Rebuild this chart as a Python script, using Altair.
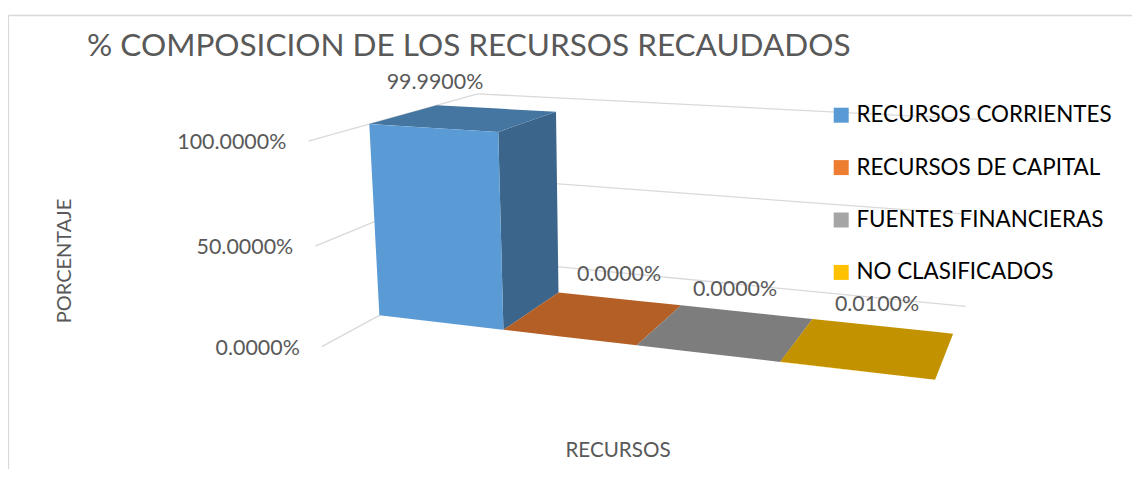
import altair as alt
import numpy as np
import pandas as pd

# ---- chart content ----
categories = ["RECURSOS CORRIENTES", "RECURSOS DE CAPITAL", "FUENTES FINANCIERAS", "NO CLASIFICADOS"]
values = [99.99, 0.0, 0.0, 0.01]
value_labels = ["99.9900%", "0.0000%", "0.0000%", "0.0100%"]
grid_values = [0, 50, 100]
tick_labels = ["0.0000%", "50.0000%", "100.0000%"]
title_text = "% COMPOSICION DE LOS RECURSOS RECAUDADOS"
y_title = "PORCENTAJE"
x_title = "RECURSOS"

# ---- styling ----
front_colors = ["#5B9BD5", "#ED7D31", "#A5A5A5", "#FFC000"]
top_colors = ["#4576A2", "#B45F25", "#7D7D7D", "#C29200"]
side_colors = ["#3B658A", "#9A5220", "#6B6B6B", "#A67C00"]
FONT = "Lato"
GREY = "#595959"
W, H = 1124, 461

# ---- camera calibration: (category, depth, share) -> page position ----
calib = [
    ((0, 0, 1), (369.3, 124)), ((1, 0, 1), (498.3, 132)), ((1, 0, 0), (503.3, 329.3)),
    ((0, 0, 0), (379.3, 315.3)), ((0, 1, 1), (436.7, 105.3)), ((1, 1, 1), (556, 111.7)),
    ((1, 1, 0), (558.7, 292.7)), ((2, 0, 0), (637, 345.5)), ((2, 1, 0), (681, 305.5)),
    ((3, 0, 0), (780, 362)), ((3, 1, 0), (812.3, 319)), ((4, 0, 0), (935, 380)),
    ((4, 1, 0), (953.3, 333.3)),
]
A, b = [], []
for (c, d, v), (u, w) in calib:
    A.append([c, d, v, 1, 0, 0, 0, 0, -u * c, -u * d, -u * v])
    b.append(u)
    A.append([0, 0, 0, 0, c, d, v, 1, -w * c, -w * d, -w * v])
    b.append(w)
sol = np.linalg.lstsq(np.array(A, float), np.array(b, float), rcond=None)[0]
P = np.append(sol, 1.0).reshape(3, 4)


def project(c, d, v):
    h = P @ np.array([c, d, v, 1.0])
    return float(h[0] / h[2]), float(h[1] / h[2])


def nearest(fn, grid, target):
    dist = [np.hypot(*(np.array(fn(g)) - np.array(target))) for g in grid]
    return float(grid[int(np.argmin(dist))])


wall_front = nearest(lambda d: project(0, d, 0), np.linspace(-3, 0, 1501), (322, 347))
wall_back = nearest(lambda d: project(0, d, 0), np.linspace(1, 4, 1501), (481.6, 257.5))
wall_right = nearest(lambda c: project(c, wall_back, 0), np.linspace(3, 6, 1501), (966, 304))


def polygon_rows(points, face, color):
    """Turn a convex polygon into x / top / bottom rows for an area mark."""
    rows = []
    n = len(points)
    for x in sorted({p[0] for p in points}):
        ys = []
        for i in range(n):
            (x0, y0), (x1, y1) = points[i], points[(i + 1) % n]
            if min(x0, x1) <= x <= max(x0, x1):
                if x0 == x1:
                    ys += [y0, y1]
                else:
                    ys.append(y0 + (y1 - y0) * (x - x0) / (x1 - x0))
        rows.append({"face": face, "px": x, "top": min(ys), "bottom": max(ys), "shade": color, "cat": face})
    return rows


shade_rows, front_rows = [], []
for i, (cat, val) in enumerate(zip(categories, values)):
    s = val / 100
    side = [project(i + 1, 0, 0), project(i + 1, 1, 0), project(i + 1, 1, s), project(i + 1, 0, s)]
    top = [project(i, 0, s), project(i + 1, 0, s), project(i + 1, 1, s), project(i, 1, s)]
    front = [project(i, 0, 0), project(i + 1, 0, 0), project(i + 1, 0, s), project(i, 0, s)]
    if s > 0.5:
        shade_rows += polygon_rows(side, cat + " side", side_colors[i])
    shade_rows += polygon_rows(top, cat + " top", top_colors[i])
    front_rows += polygon_rows(front, cat, front_colors[i])

shade_df = pd.DataFrame(shade_rows)
front_df = pd.DataFrame(front_rows)

grid_rows = []
for g in grid_values:
    s = g / 100
    k = 0
    for key, pt in [("l", project(0, wall_front, s)), ("l", project(0, wall_back, s)),
                    ("b", project(0, wall_back, s)), ("b", project(wall_right, wall_back, s))]:
        grid_rows.append({"line": f"{g}{key}", "x": pt[0], "y": pt[1], "o": k})
        k += 1
grid_df = pd.DataFrame(grid_rows)

xs = alt.Scale(domain=[8, 8 + W], nice=False, zero=False)
ys = alt.Scale(domain=[8, 8 + H], nice=False, zero=False, reverse=True)
X = alt.X("x:Q", scale=xs, axis=None)
Y = alt.Y("y:Q", scale=ys, axis=None)
PX = alt.X("px:Q", scale=xs, axis=None)
TOP = alt.Y("top:Q", scale=ys, axis=None)

frame_h = pd.DataFrame({"x": [8.5], "x2": [1132.0], "y": [15.5]})
frame_v = pd.DataFrame({"x": [8.5], "y": [15.5], "y2": [469.0]})
frame = alt.layer(
    alt.Chart(frame_h).mark_rule(color="#D9D9D9", strokeWidth=1.3).encode(x=X, x2="x2:Q", y=Y),
    alt.Chart(frame_v).mark_rule(color="#D9D9D9", strokeWidth=1.3).encode(x=X, y=Y, y2="y2:Q"),
)

grid = alt.Chart(grid_df).mark_line(color="#D9D9D9", strokeWidth=1.3).encode(
    x=X, y=Y, detail="line:N", order="o:Q")

shade = alt.Chart(shade_df).mark_area().encode(
    x=PX, y=TOP, y2="bottom:Q", detail="face:N",
    fill=alt.Fill("shade:N", scale=None, legend=None))

fronts = alt.Chart(front_df).mark_area().encode(
    x=PX, y=TOP, y2="bottom:Q", detail="face:N",
    color=alt.Color("cat:N",
                    scale=alt.Scale(domain=categories, range=front_colors),
                    legend=alt.Legend(title=None, orient="none", legendX=822, legendY=96,
                                      symbolType="square", symbolSize=225, symbolStrokeWidth=0,
                                      symbolOpacity=1, labelFont=FONT, labelFontSize=22.4,
                                      labelColor="#000000", rowPadding=29.4, labelOffset=4,
                                      labelLimit=400, padding=0)))

value_x = [435, 619, 735, 877]
value_y = [83, 275, 290, 305]
labels_df = pd.DataFrame({"t": value_labels, "x": value_x, "y": value_y})
labels = alt.Chart(labels_df).mark_text(font=FONT, fontSize=21.4, color=GREY, align="center",
                                        baseline="middle").encode(x=X, y=Y, text="t:N")

tick_rows = []
for g, t in zip(grid_values, tick_labels):
    px, py = project(0, wall_front, g / 100)
    tick_rows.append({"t": t, "x": px - 22, "y": py + 2})
ticks = alt.Chart(pd.DataFrame(tick_rows)).mark_text(font=FONT, fontSize=21.4, color=GREY, align="right",
                                                     baseline="middle").encode(x=X, y=Y, text="t:N")

title = alt.Chart(pd.DataFrame({"t": [title_text], "x": [87], "y": [47]})).mark_text(
    font=FONT, fontSize=31.5, color=GREY, align="left", baseline="middle").encode(x=X, y=Y, text="t:N")
xt = alt.Chart(pd.DataFrame({"t": [x_title], "x": [618], "y": [451]})).mark_text(
    font=FONT, fontSize=20.6, color=GREY, align="center", baseline="middle").encode(x=X, y=Y, text="t:N")
yt = alt.Chart(pd.DataFrame({"t": [y_title], "x": [65], "y": [261]})).mark_text(
    font=FONT, fontSize=20, color=GREY, align="center", baseline="middle", angle=270).encode(x=X, y=Y, text="t:N")

chart = alt.layer(
    frame, grid, shade, fronts, labels, ticks, title, xt, yt
).properties(width=W, height=H, padding=0, autosize=alt.AutoSizeParams(type="none"),
             background="white").configure_view(stroke=None)

chart.save("out.html", embed_options={"renderer": "svg", "actions": False})
